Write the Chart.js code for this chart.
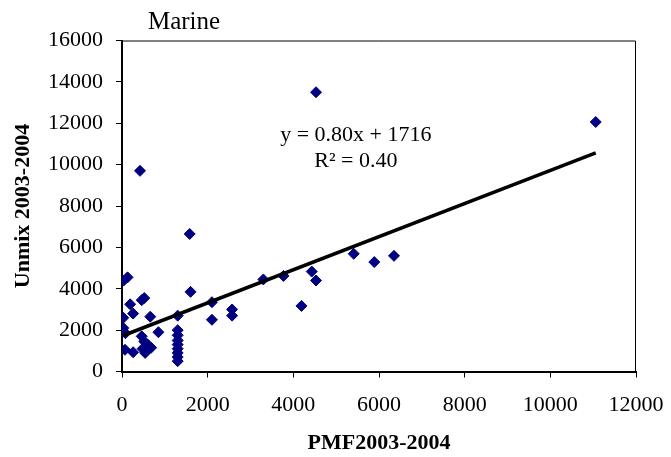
<!DOCTYPE html>
<html>
<head>
<meta charset="utf-8">
<script src="https://cdn.jsdelivr.net/npm/chart.js@4"></script>
<style>
  html, body { margin: 0; padding: 0; background: #ffffff; }
  #wrap { width: 671px; height: 457px; }
</style>
</head>
<body>
<div id="wrap"><canvas id="chart" width="671" height="457"></canvas></div>
<script>
// PMF 2003-2004 (x) vs Unmix 2003-2004 (y), marine source
const pmf = [
  40, 130, 190, 460, 520, 260, 30, 660, 30, 80,
  850, 70, 260, 460, 520, 600, 680, 540, 480,
  1300, 1300, 1300, 1300, 1300, 1300, 1300, 1300, 1300,
  1600, 1580, 420, 2100, 2100, 2570, 2570,
  3300, 3770, 4190, 4430, 4530, 4530, 5410, 5890, 6350, 11060,
];
const unmix = [
  4400, 4550, 3250, 3450, 3550, 2800, 2600, 2650, 2100, 1850,
  1900, 1050, 930, 1700, 1450, 1300, 1150, 900, 1100,
  2700, 2000, 1750, 1500, 1300, 1100, 900, 700, 500,
  3850, 6650, 9700, 3350, 2500, 3000, 2700,
  4450, 4620, 3170, 4830, 4400, 13500, 5690, 5290, 5590, 12060,
];

// Trendline as printed on the chart
const slope = 0.80;
const intercept = 1716;
const rSquared = 0.40;

const xTicks = [0, 2000, 4000, 6000, 8000, 10000, 12000];
const yTicks = [0, 2000, 4000, 6000, 8000, 10000, 12000, 14000, 16000];

const points = pmf.map((x, i) => ({ x: x, y: unmix[i] }));
const xMin = Math.min(...pmf);
const xMax = Math.max(...pmf);
const trend = [
  { x: xMin, y: slope * xMin + intercept },
  { x: xMax, y: slope * xMax + intercept },
];

const serif = "'Liberation Serif', 'Times New Roman', serif";

// Frame, chart title and equation text
const extras = {
  id: "extras",
  beforeDatasetsDraw(chart) {
    const { ctx, chartArea: a } = chart;
    ctx.save();
    ctx.strokeStyle = "#000000";
    ctx.lineWidth = 1;
    ctx.beginPath();
    ctx.moveTo(a.left, a.top + 0.5);
    ctx.lineTo(a.right - 0.5, a.top + 0.5);
    ctx.lineTo(a.right - 0.5, a.bottom);
    ctx.stroke();
    ctx.restore();
  },
  afterDraw(chart) {
    const { ctx, scales } = chart;
    ctx.save();
    ctx.fillStyle = "#000000";
    ctx.textAlign = "center";
    ctx.textBaseline = "middle";
    ctx.font = "25px " + serif;
    ctx.fillText("Marine", 184, 22);

    ctx.font = "22px " + serif;
    const ex = scales.x.getPixelForValue(5460);
    ctx.fillText("y = " + slope.toFixed(2) + "x + " + intercept, ex, scales.y.getPixelForValue(11400));
    ctx.fillText("R\u00B2 = " + rSquared.toFixed(2), ex, scales.y.getPixelForValue(10150));
    ctx.restore();
  },
};

new Chart(document.getElementById("chart"), {
  type: "scatter",
  plugins: [extras],
  data: {
    datasets: [
      {
        label: "Marine",
        data: points,
        pointStyle: "rectRot",
        pointRadius: 5.5,
        pointBackgroundColor: "#000080",
        pointBorderColor: "#000080",
        pointBorderWidth: 1,
        order: 1,
      },
      {
        type: "line",
        label: "Linear",
        data: trend,
        borderColor: "#000000",
        borderWidth: 3.5,
        pointRadius: 0,
        fill: false,
        order: 0,
      },
    ],
  },
  options: {
    responsive: false,
    animation: false,
    layout: { padding: { top: 40.5, right: 35, left: 0, bottom: 0 } },
    plugins: {
      legend: { display: false },
      tooltip: { enabled: false },
    },
    scales: {
      x: {
        type: "linear",
        min: 0,
        max: 12000,
        afterBuildTicks: (s) => { s.ticks = xTicks.map((v) => ({ value: v })); },
        afterFit: (s) => {
          s.height = 85.5;
          s.paddingLeft = 0;
          s.paddingRight = 0;
        },
        border: { display: true, color: "#000000", width: 2 },
        grid: { drawOnChartArea: false, drawTicks: true, tickLength: 6, color: "#000000", tickWidth: 1 },
        ticks: {
          color: "#000000",
          font: { family: serif, size: 22 },
          padding: 15,
          maxRotation: 0,
          callback: (v) => String(v),
        },
        title: {
          display: true,
          text: "PMF2003-2004",
          color: "#000000",
          font: { family: serif, size: 22, weight: "bold" },
          padding: { top: 0, bottom: 0 },
        },
      },
      y: {
        type: "linear",
        min: 0,
        max: 16000,
        afterBuildTicks: (s) => { s.ticks = yTicks.map((v) => ({ value: v })); },
        afterFit: (s) => {
          s.width = 122;
          s.paddingTop = 0;
          s.paddingBottom = 0;
        },
        border: { display: true, color: "#000000", width: 2 },
        grid: { drawOnChartArea: false, drawTicks: true, tickLength: 6, color: "#000000", tickWidth: 1 },
        ticks: {
          color: "#000000",
          font: { family: serif, size: 22 },
          padding: 13,
          callback: (v) => String(v),
        },
        title: {
          display: true,
          text: "Unmix 2003-2004",
          color: "#000000",
          font: { family: serif, size: 22, weight: "bold" },
          padding: { top: 10, bottom: 0 },
        },
      },
    },
  },
});
</script>
</body>
</html>
